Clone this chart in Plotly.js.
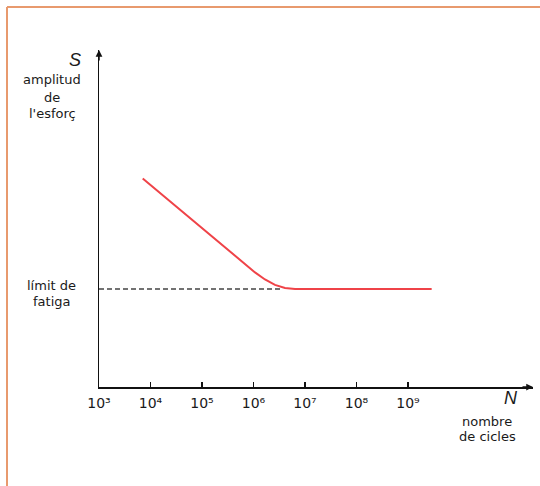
<!DOCTYPE html>
<html>
<head>
<meta charset="utf-8">
<script src="https://cdn.plot.ly/plotly-3.0.1.min.js"></script>
<style>html,body{margin:0;padding:0;background:#fff;}#chart{width:540px;height:486px;}</style>
</head>
<body>
<div id="chart"></div>
<script>
// Data (N = number of cycles, S = stress amplitude, arbitrary units)
const curveN = [7060, 1.07e6, 1.67e6, 2.61e6, 4.09e6, 6.40e6, 2.88e9];
const curveS = [6.19, 3.40, 3.19, 3.03, 2.94, 2.91, 2.91];
const limitN = [1e3, 3.57e6];
const limitS = [2.91, 2.91];
const tickVals = [1e3, 1e4, 1e5, 1e6, 1e7, 1e8, 1e9];
const tickText = ['10³', '10⁴', '10⁵', '10⁶', '10⁷', '10⁸', '10⁹'];
const yLabelLines = ['amplitud', 'de', "l'esforç"];
const limitLabelLines = ['límit de', 'fatiga'];
const xLabelLines = ['nombre', 'de cicles'];

const W = 540, H = 486;
const M = {l: 99, r: 7, t: 50, b: 99};
const PW = W - M.l - M.r, PH = H - M.t - M.b;
const px = x => (x - M.l) / PW;
const py = y => 1 - (y - M.t) / PH;

const FONT = 'DejaVu Sans, Liberation Sans, Arial, sans-serif';
const TXT = '#1a1a1a';

function label(text, x, y, size, extra) {
  return Object.assign({
    text: text, xref: 'paper', yref: 'paper', x: px(x), y: py(y),
    xanchor: 'center', yanchor: 'middle', showarrow: false,
    font: {family: FONT, size: size, color: TXT}
  }, extra || {});
}

const annotations = [];
annotations.push(label('S', 75, 60, 18, {font: {family: 'Liberation Sans, Arial, sans-serif', size: 18, color: TXT, style: 'italic'}}));
[80, 97, 113].forEach((y, i) => annotations.push(label(yLabelLines[i], 52, y, 13)));
[285, 301].forEach((y, i) => annotations.push(label(limitLabelLines[i], 51, y, 13)));
annotations.push(label('N', 511, 398, 18, {font: {family: 'Liberation Sans, Arial, sans-serif', size: 18, color: TXT, style: 'italic'}}));
[421, 436].forEach((y, i) => annotations.push(label(xLabelLines[i], 487, y, 13)));
// axis arrowheads
annotations.push({xref: 'paper', yref: 'paper', x: 1, y: 0, ax: -12, ay: 0, axref: 'pixel', ayref: 'pixel',
  showarrow: true, arrowhead: 2, arrowsize: 0.9, arrowwidth: 1.5, arrowcolor: '#111', text: ''});
annotations.push({xref: 'paper', yref: 'paper', x: 0, y: 1, ax: 0, ay: 12, axref: 'pixel', ayref: 'pixel',
  showarrow: true, arrowhead: 2, arrowsize: 0.9, arrowwidth: 1.5, arrowcolor: '#111', text: ''});

const data = [
  {x: limitN, y: limitS, mode: 'lines', type: 'scatter', hoverinfo: 'skip',
   line: {color: '#444', width: 1.4, dash: '5px,3px'}},
  {x: curveN, y: curveS, mode: 'lines', type: 'scatter', hoverinfo: 'skip',
   line: {color: '#EF4348', width: 2}}
];

const layout = {
  width: W, height: H, margin: M, showlegend: false,
  paper_bgcolor: '#fff', plot_bgcolor: '#fff',
  xaxis: {type: 'log', range: [3, 3 + PW / 51.5], showgrid: false, zeroline: false,
    showline: true, linecolor: '#111', linewidth: 1.5,
    tickmode: 'array', tickvals: tickVals, ticktext: tickText,
    ticks: 'inside', ticklen: 5, tickwidth: 1.5, tickcolor: '#111', ticklabelstandoff: 3,
    tickfont: {family: FONT, size: 14, color: TXT}, fixedrange: true},
  yaxis: {range: [0, 10], showgrid: false, zeroline: false, showline: true,
    linecolor: '#111', linewidth: 1.5, showticklabels: false, ticks: '', fixedrange: true},
  annotations: annotations,
  shapes: [
    {type: 'line', xref: 'paper', yref: 'paper', x0: px(7), x1: px(560), y0: py(7), y1: py(7),
     line: {color: '#E89A6E', width: 2}},
    {type: 'line', xref: 'paper', yref: 'paper', x0: px(7), x1: px(7), y0: py(7), y1: py(500),
     line: {color: '#E89A6E', width: 2}}
  ]
};

Plotly.newPlot('chart', data, layout, {staticPlot: true, displayModeBar: false});
</script>
</body>
</html>
